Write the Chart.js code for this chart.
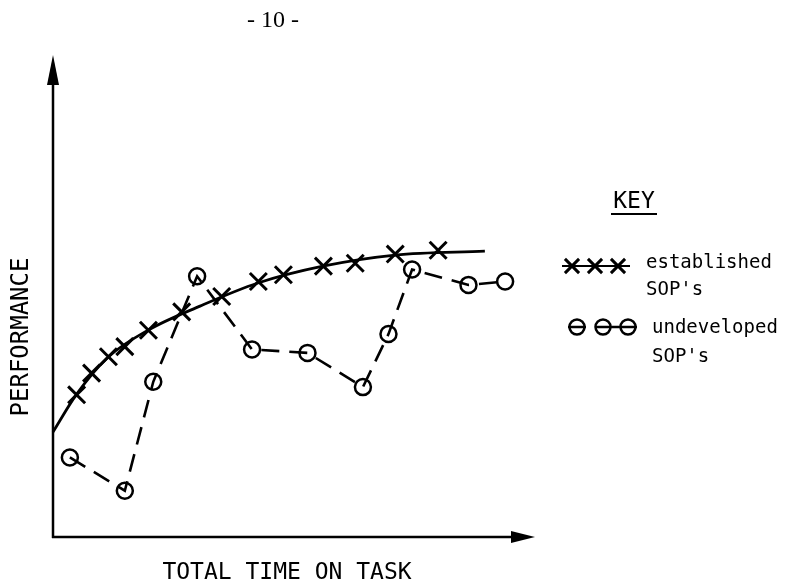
<!DOCTYPE html>
<html>
<head>
<meta charset="utf-8">
<script src="https://cdn.jsdelivr.net/npm/chart.js@4.4.0/dist/chart.umd.min.js"></script>
<style>
  html, body { margin: 0; padding: 0; background: #fff; }
  #wrap { width: 785px; height: 585px; }
</style>
</head>
<body>
<div id="wrap"><canvas id="chart"></canvas></div>
<script>
// values; both axes run 0..100 (no ticks in the original)
const establishedX = [4.9, 8.0, 11.5, 14.9, 19.8, 26.7, 35.0, 42.6, 47.8, 56.1, 62.7, 71.0, 79.9];
const establishedY = [29.5, 34.0, 37.4, 39.5, 42.9, 46.7, 49.9, 53.0, 54.4, 56.2, 56.8, 58.7, 59.5];
const curveX = [0, 4.8, 11.4, 19.7, 30.5, 42.5, 56.0, 71.0, 89.6];
const curveY = [21.8, 29.5, 37.3, 42.9, 47.9, 52.7, 56.2, 58.5, 59.3];
const undevelopedX = [3.5, 14.9, 20.8, 29.9, 41.3, 52.8, 64.3, 69.6, 74.5, 86.2, 93.8];
const undevelopedY = [16.5, 9.6, 32.2, 54.1, 38.9, 38.2, 31.1, 42.1, 55.5, 52.3, 53.0];

const establishedLabel = ['established', "SOP's"];
const undevelopedLabel = ['undeveloped', "SOP's"];
const pageNumber = '- 10 -';
const xTitle = 'TOTAL TIME ON TASK';
const yTitle = 'PERFORMANCE';
const keyTitle = 'KEY';

const toPoints = (xs, ys) => xs.map((x, i) => ({ x: x, y: ys[i] }));
const mono = '"DejaVu Sans Mono", monospace';

// axes with arrow heads, titles and the hand-drawn style key
const sketchPlugin = {
  id: 'sketch',
  beforeDatasetsDraw(chart) {
    const ctx = chart.ctx;
    const { left, right, top, bottom } = chart.chartArea;
    ctx.save();
    ctx.strokeStyle = '#000';
    ctx.fillStyle = '#000';
    ctx.lineWidth = 2.5;
    ctx.beginPath();
    ctx.moveTo(left, bottom + 1);
    ctx.lineTo(left, top + 20);
    ctx.moveTo(left - 1, bottom);
    ctx.lineTo(right - 15, bottom);
    ctx.stroke();

    ctx.beginPath();
    ctx.moveTo(left, top);
    ctx.lineTo(left - 6, top + 30);
    ctx.lineTo(left + 6, top + 30);
    ctx.closePath();
    ctx.fill();

    ctx.beginPath();
    ctx.moveTo(right, bottom);
    ctx.lineTo(right - 24, bottom - 6);
    ctx.lineTo(right - 24, bottom + 6);
    ctx.closePath();
    ctx.fill();
    ctx.restore();
  },
  afterDraw(chart) {
    const ctx = chart.ctx;
    ctx.save();
    ctx.fillStyle = '#000';
    ctx.strokeStyle = '#000';

    ctx.font = '24px "Liberation Serif", serif';
    ctx.textAlign = 'center';
    ctx.textBaseline = 'middle';
    ctx.fillText(pageNumber, 273, 21);

    ctx.font = '23px ' + mono;
    ctx.fillText(xTitle, 287, 573);

    ctx.save();
    ctx.translate(22, 337);
    ctx.rotate(-Math.PI / 2);
    ctx.font = '24px ' + mono;
    ctx.fillText(yTitle, 0, 0);
    ctx.restore();

    // key
    ctx.font = '23px ' + mono;
    ctx.fillText(keyTitle, 634, 202);
    ctx.lineWidth = 2;
    ctx.beginPath();
    ctx.moveTo(611, 214);
    ctx.lineTo(657, 214);
    ctx.stroke();

    ctx.textAlign = 'left';
    ctx.textBaseline = 'alphabetic';
    ctx.font = '19px ' + mono;
    ctx.fillText(establishedLabel[0], 646, 268);
    ctx.fillText(establishedLabel[1], 646, 295);
    ctx.fillText(undevelopedLabel[0], 652, 333);
    ctx.fillText(undevelopedLabel[1], 652, 362);

    // sample for established SOP's
    ctx.lineWidth = 2;
    ctx.beginPath();
    ctx.moveTo(562, 266);
    ctx.lineTo(630, 266);
    ctx.stroke();
    ctx.lineWidth = 3;
    [572, 595, 618].forEach(x => {
      Chart.helpers.drawPoint(ctx, { pointStyle: 'crossRot', radius: 10, rotation: 0, borderWidth: 3 }, x, 266);
    });

    // sample for undeveloped SOP's
    ctx.lineWidth = 2.5;
    ctx.beginPath();
    ctx.moveTo(568, 327);
    ctx.lineTo(586, 327);
    ctx.moveTo(595, 327);
    ctx.lineTo(637, 327);
    ctx.stroke();
    ctx.fillStyle = 'rgba(0,0,0,0)';
    [577, 603, 628].forEach(x => {
      Chart.helpers.drawPoint(ctx, { pointStyle: 'circle', radius: 7.5, rotation: 0, borderWidth: 2.5 }, x, 327);
    });
    ctx.restore();
  }
};

new Chart(document.getElementById('chart'), {
  type: 'line',
  data: {
    datasets: [
      {
        label: 'established curve',
        data: toPoints(curveX, curveY),
        borderColor: '#000',
        borderWidth: 2.8,
        pointRadius: 0,
        cubicInterpolationMode: 'monotone',
        fill: false,
        clip: false
      },
      {
        label: "established SOP's",
        data: toPoints(establishedX, establishedY),
        showLine: false,
        pointStyle: 'crossRot',
        pointRadius: 12,
        pointBorderWidth: 3,
        pointBorderColor: '#000',
        clip: false
      },
      {
        label: "undeveloped SOP's",
        data: toPoints(undevelopedX, undevelopedY),
        borderColor: '#000',
        borderWidth: 2.6,
        borderDash: [18, 10],
        tension: 0,
        pointStyle: 'circle',
        pointRadius: 8,
        pointBorderWidth: 2.5,
        pointBorderColor: '#000',
        pointBackgroundColor: 'rgba(0,0,0,0)',
        fill: false,
        clip: false
      }
    ]
  },
  options: {
    responsive: true,
    maintainAspectRatio: false,
    animation: false,
    layout: { padding: { left: 53, top: 55, right: 250, bottom: 48 } },
    plugins: {
      legend: { display: false },
      tooltip: { enabled: false }
    },
    scales: {
      x: { type: 'linear', min: 0, max: 100, display: false },
      y: { type: 'linear', min: 0, max: 100, display: false }
    }
  },
  plugins: [sketchPlugin]
});
</script>
</body>
</html>
